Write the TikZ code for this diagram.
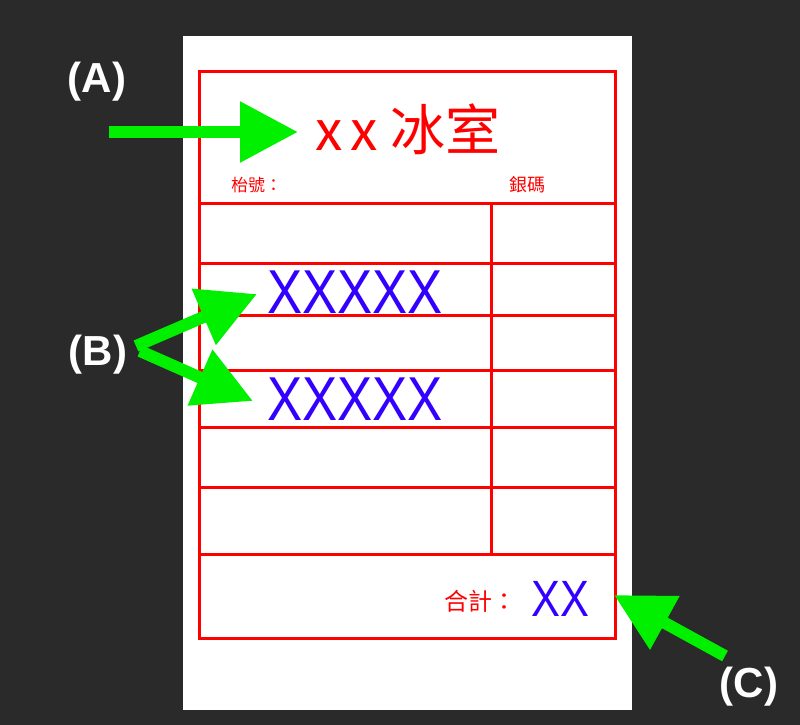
\documentclass[tikz,border=0pt]{standalone}
\usepackage{fontspec}
\setmainfont{Liberation Sans}
\newfontfamily\cjk{Noto Sans CJK TC}
\newfontfamily\hand[FakeStretch=0.85]{Liberation Sans}
\usetikzlibrary{arrows.meta}
\definecolor{bgdark}{RGB}{42,42,42}
\definecolor{inkred}{RGB}{255,0,0}
\definecolor{penblue}{RGB}{51,0,255}
\definecolor{marker}{RGB}{0,240,0}

\tikzset{% >= latex,
  rule/.style ={draw=inkred, line width=3pt},
  pointer/.style={
    draw=marker, line width=12pt, % butt ends
    -{Triangle[length=58pt, width=58pt]},
  },
  tag/.style ={text=white, inner sep=0pt, font=\fontsize{42}{42}\selectfont\bfseries},
  printed/.style ={text=inkred, inner sep=0pt, anchor=west},
  written/.style ={text=penblue, inner sep=0pt},
}

\begin{document}
\begin{tikzpicture}[x=1pt, y=-1pt]
  \fill[bgdark] (0,0) rectangle (800,725);
  \useasboundingbox (0,0) rectangle (800,725);
  \fill[white] (183,36) rectangle (632,710);
  % the form
  \draw[rule] (199,71) rectangle (615,638);
  \draw[rule] (199,203) -- (617,203);
  \draw[rule] (199,263) -- (615,263);
  \draw[rule] (199,315) -- (615,315);
  \draw[rule] (199,370) -- (615,370);
  \draw[rule] (199,427) -- (615,427);
  \draw[rule] (199,487) -- (615,487);
  \draw[rule] (199,554) -- (617,554);
  \draw[rule] (491,203) -- (491,554);
  % printed text
  \node[printed, font=\fontsize{55}{55}\cjk] (shop) at (315,129) {x\kern8pt x\kern13pt 冰室};
  \node[printed, font=\fontsize{17}{17}\cjk] (table) at (231,185) {枱號：};
  \node[printed, font=\fontsize{18}{18}\cjk] (amount) at (509,185) {銀碼};
  \node[printed, font=\fontsize{24}{24}\cjk] (total) at (444,601) {合計：};
  % handwriting
  \node[written, font=\fontsize{62}{62}\hand] (item1) at (355,292) {XXXXX};
  \node[written, font=\fontsize{62}{62}\hand] (item2) at (355,399) {XXXXX};
  \node[written, font=\fontsize{51}{51}\hand] (sum) at (560,599) {XX};
  % tags and pointers
  \node[tag] (a) at (97,82) {(A)};
  \node[tag] (b) at (98,355) {(B)};
  \node[tag] (c) at (749,687) {(C)};
  \coordinate (a0) at (109,132);
  \coordinate (a1) at (298,132);
  \coordinate (b0) at (136,346);
  \coordinate (b1) at (257,294);
  \coordinate (b2) at (140,351);
  \coordinate (b3) at (253,401);
  \coordinate (c0) at (725,656);
  \coordinate (c1) at (614,595);
  \draw[pointer] (a0) -- (a1);
  \draw[pointer] (b0) -- (b1);
  \draw[pointer] (b2) -- (b3);
  \draw[pointer] (c0) -- (c1);
\end{tikzpicture}
\end{document}
